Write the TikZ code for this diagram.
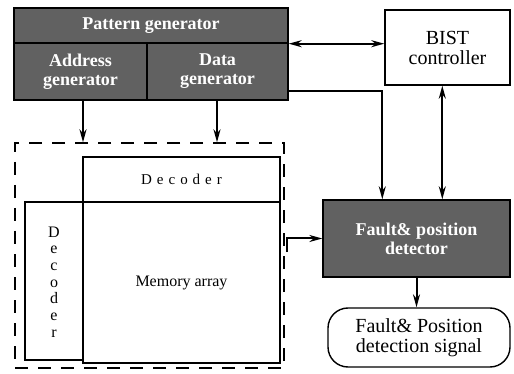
\documentclass[tikz,border=0pt]{standalone}
\usepackage{fontspec}
\setmainfont{Liberation Serif}
\usetikzlibrary{arrows.meta,calc,patterns}
\begin{document}
\begin{tikzpicture}[x=1pt,y=-1pt,
  box/.style={draw,line width=1.4pt,inner sep=0pt},
  darkbox/.style={box,fill=black!62,text=white,font=\fontsize{18}{19}\selectfont\bfseries},
  plainbox/.style={box,fill=white},
  arr/.style={line width=2pt,-{Stealth[length=13pt,width=7pt]}},
  darr/.style={line width=2pt,{Stealth[length=13pt,width=7pt]}-{Stealth[length=13pt,width=7pt]}},
  lbl/.style={font=\fontsize{20}{20}\selectfont,align=center}]
\useasboundingbox (0,0) rectangle (514,374);
% pattern generator
\node[darkbox,minimum width=274pt,minimum height=35pt] (pgtop) at (151,25.5) {Pattern generator};
\node[darkbox,minimum width=133pt,minimum height=57pt,align=center] (addr) at (80.5,71.5) {Address\\generator};
\node[darkbox,minimum width=141pt,minimum height=57pt,align=center] (data) at (217.5,71.5) {Data\\generator};
% BIST controller
\node[plainbox,minimum width=125pt,minimum height=75pt,lbl] (bist) at (447.5,47.5) {BIST\\controller};
% detector
\node[darkbox,minimum width=187pt,minimum height=77pt,align=center] (det) at (416.5,238.5) {Fault\& position\\detector};
% signal
\node[draw,line width=1.4pt,rounded corners=20pt,minimum width=182pt,minimum height=59pt,lbl,inner sep=0pt] (sig) at (419,337.5) {Fault\& Position\\detection signal};
% memory
\node[draw,dashed,dash pattern=on 13pt off 10pt,line width=1.4pt,minimum width=269pt,minimum height=225pt,inner sep=0pt] (dash) at (149.5,255.5) {};
\node[plainbox,minimum width=197pt,minimum height=45pt,font=\fontsize{15}{15}\selectfont] (dectop) at (181.5,179.5) {D\,\,e\,\,c\,\,o\,\,d\,\,e\,\,r};
\node[plainbox,minimum width=197pt,minimum height=161pt,font=\fontsize{16}{16}\selectfont] (mem) at (181.5,282.5) {Memory array};
\node[plainbox,minimum width=58pt,minimum height=158pt] (decl) at (54,281) {};
\node[font=\fontsize{16}{16.7}\selectfont,align=center] (decltxt) at (54,282) {D\\e\\c\\o\\d\\e\\r};
% connectors
\draw[arr] (addr.south -| 83,0) -- (dash.north -| 83,0);
\draw[arr] (data.south -| 217,0) -- (dash.north -| 217,0);
\coordinate (pgr) at (pgtop.south east);
\draw[darr] (pgr) -- (pgr -| bist.west);
\coordinate (dr) at ($(data.south east)+(0,-10)$);
\draw[arr] (dr) -| ($(det.north west)+(60,0)$);
\draw[darr] ($(bist.south west)+(58,0)$) -- ($(det.north west)+(120,0)$);
\coordinate (mo) at (287,252);
\draw[arr] (mo) |- (det.west);
\draw[arr] (det.south) -- (det.south |- sig.north);
\end{tikzpicture}
\end{document}
